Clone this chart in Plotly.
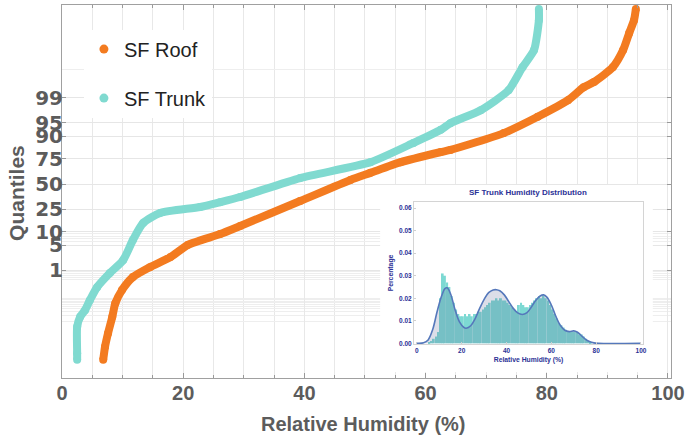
import plotly.graph_objects as go
from statistics import NormalDist

# ---------------- data ----------------
# probability-plot points: cumulative quantile (%) vs relative humidity (%)
trunk_pct = [0.000107, 0.000256, 0.0059, 0.0172, 0.0337, 0.087, 0.272, 0.82,
             2.02, 6.55, 14.7, 21.8, 26.8, 31.2, 36.3, 56.4, 72.2, 86.6,
             92.8, 94.95, 97.67, 99.43, 99.918, 99.9847, 99.9995, 99.99988]
trunk_rh = [2.5, 2.5, 2.5, 3.0, 3.8, 4.6, 5.8, 7.9,
            10.1, 11.7, 13.4, 16.2, 22.8, 26.1, 29.4, 39.3, 50.9, 58.0,
            62.5, 64.1, 69.1, 73.7, 76.0, 77.9, 78.7, 78.7]

roof_pct = [0.000107, 0.00057, 0.0029, 0.0172, 0.066, 0.212, 0.604, 1.25,
            2.44, 5.05, 8.85, 12.9, 32.3, 54.4, 61.8, 72.2, 80.5, 82.1,
            91.5, 96.5, 98.81, 99.547, 99.702, 99.918, 99.9847, 99.99765,
            99.9995, 99.99988]
roof_rh = [6.8, 7.1, 7.6, 8.3, 8.8, 9.9, 11.7, 14.5,
           17.9, 20.8, 26.1, 29.4, 39.3, 47.6, 50.9, 55.9, 62.5, 64.1,
           72.9, 78.5, 83.5, 86.1, 87.8, 90.9, 92.6, 93.6,
           94.4, 94.7]

quantile_ticks = [1, 5, 10, 25, 50, 75, 90, 95, 99]
quantile_minor = [0.01, 0.02, 0.03, 0.04, 0.05, 0.06, 0.07, 0.08, 0.09, 0.1,
                  0.5, 0.6, 0.7, 0.8, 0.9, 6, 7, 8, 9, 99.9]
x_ticks = [0, 20, 40, 60, 80, 100]

# inset: SF Trunk humidity distribution (1 %-wide bins, fraction of samples)
hist_rh = [k + 0.5 for k in range(5, 78)]
hist_frac = [0.0005, 0.001, 0.002, 0.003, 0.005, 0.020, 0.031, 0.030, 0.027, 0.025,
             0.021, 0.018, 0.015, 0.013, 0.012, 0.012, 0.013, 0.012, 0.013, 0.012,
             0.013, 0.013, 0.014, 0.014, 0.015, 0.016, 0.017, 0.018, 0.019, 0.019,
             0.020, 0.019, 0.020, 0.019, 0.019, 0.018, 0.017, 0.016, 0.015, 0.014,
             0.017, 0.018, 0.017, 0.016, 0.016, 0.017, 0.018, 0.019, 0.020, 0.021,
             0.020, 0.021, 0.020, 0.019, 0.017, 0.015, 0.013, 0.011, 0.009, 0.008,
             0.007, 0.006, 0.005, 0.005, 0.005, 0.005, 0.005, 0.004, 0.004, 0.003,
             0.002, 0.001, 0.0005]
kde_rh = [0, 3, 5, 7, 9, 11, 12.5, 13.5, 15, 17, 19, 21, 22, 24, 26, 28, 30, 32,
          34, 35.5, 37, 39, 41, 43, 45, 47, 49, 51, 53, 55, 56.5, 58, 60, 62, 64,
          66, 68, 70, 71.5, 73, 75, 77, 79, 81, 100]
kde_frac = [0, 0.0002, 0.0015, 0.006, 0.014, 0.021, 0.0243, 0.0246, 0.022, 0.015,
            0.0095, 0.007, 0.0067, 0.0078, 0.011, 0.0155, 0.0195, 0.0225, 0.0237,
            0.0238, 0.0233, 0.0215, 0.0185, 0.0155, 0.0135, 0.0128, 0.0135, 0.016,
            0.019, 0.021, 0.0215, 0.0205, 0.017, 0.012, 0.008, 0.0058, 0.0052,
            0.0055, 0.005, 0.0038, 0.002, 0.0008, 0.0002, 0, 0]

# ---------------- helpers ----------------
nd = NormalDist()


def probit(p):
    return nd.inv_cdf(p / 100.0)


ORANGE = "#F37B20"
TEAL = "#80DAD0"
GREY = "#5c5c5c"
NAVY = "#2b3196"
FONT = "Liberation Sans, Arial, sans-serif"
WIDE = "DejaVu Sans, Liberation Sans, sans-serif"

X_MAX = 100.5
Y_MIN, Y_MAX = -5.229, 4.825
# white panel behind the inset (main-axis units)
PANEL_X = [52.5, 97.5]
PANEL_Y = [-5.067, -0.027]

fig = go.Figure()

# white panel that hides the main grid behind the inset
fig.add_trace(go.Scatter(
    x=[PANEL_X[0], PANEL_X[1], PANEL_X[1], PANEL_X[0], PANEL_X[0]],
    y=[PANEL_Y[0], PANEL_Y[0], PANEL_Y[1], PANEL_Y[1], PANEL_Y[0]],
    mode="lines", fill="toself", fillcolor="white", line=dict(width=0),
    showlegend=False, hoverinfo="skip"))

fig.add_trace(go.Scatter(
    x=roof_rh, y=[probit(p) for p in roof_pct], mode="lines+markers",
    line=dict(color=ORANGE, width=8, shape="spline", smoothing=0.6),
    marker=dict(color=ORANGE, size=8, line=dict(width=0)),
    showlegend=False, hoverinfo="skip"))
fig.add_trace(go.Scatter(
    x=trunk_rh, y=[probit(p) for p in trunk_pct], mode="lines+markers",
    line=dict(color=TEAL, width=8, shape="spline", smoothing=0.6),
    marker=dict(color=TEAL, size=8, line=dict(width=0)),
    showlegend=False, hoverinfo="skip"))

# legend entries
fig.add_trace(go.Scatter(x=[None], y=[None], mode="markers", name="SF Roof",
                         marker=dict(color=ORANGE, size=9), legendgroup="roof"))
fig.add_trace(go.Scatter(x=[None], y=[None], mode="markers", name="SF Trunk",
                         marker=dict(color=TEAL, size=9), legendgroup="trunk"))

# inset histogram
fig.add_trace(go.Bar(x=hist_rh, y=hist_frac, width=0.85, xaxis="x2", yaxis="y2",
                     marker=dict(color="#7dd9d3", line=dict(width=0)),
                     showlegend=False, hoverinfo="skip"))
fig.add_trace(go.Scatter(x=kde_rh, y=kde_frac, xaxis="x2", yaxis="y2", mode="lines",
                         line=dict(color="#5578bb", width=1.6, shape="spline"),
                         fill="tozeroy", fillcolor="rgba(95,105,150,0.22)",
                         showlegend=False, hoverinfo="skip"))

fig.update_layout(
    width=689, height=440,
    margin=dict(l=62, r=18, t=5, b=62),
    paper_bgcolor="white", plot_bgcolor="white",
    font=dict(family=FONT),
    legend=dict(x=0.036, y=0.934, xanchor="left", yanchor="top",
                bgcolor="white", borderwidth=0, tracegroupgap=20,
                itemsizing="trace",
                font=dict(family=FONT, size=20, color="#222222")),
    xaxis=dict(range=[0, X_MAX], tickvals=x_ticks, ticks="inside", ticklen=5,
               tickcolor="#999999", showline=True, linecolor="#a0a0a0",
               mirror="ticks", showgrid=True, gridcolor="#e8e8e8", zeroline=False,
               automargin=False, ticklabelstandoff=-3,
               minor=dict(dtick=5, tick0=0, ticks="inside", ticklen=3,
                          tickcolor="#999999", showgrid=True, gridcolor="#e8e8e8"),
               tickfont=dict(family=FONT, size=20, color=GREY, weight="bold")),
    yaxis=dict(range=[Y_MIN, Y_MAX], tickvals=[probit(q) for q in quantile_ticks],
               ticktext=[str(q) for q in quantile_ticks], ticks="inside", ticklen=4,
               tickcolor="#999999", showline=True, linecolor="#a0a0a0",
               mirror="ticks", showgrid=True, gridcolor="#e6e6e6", zeroline=False,
               automargin=False, ticklabelstandoff=-6,
               minor=dict(tickvals=[probit(q) for q in quantile_minor], ticks="",
                          showgrid=True, gridcolor="#eeeeee"),
               tickfont=dict(family=WIDE, size=20, color=GREY, weight="bold")),
    xaxis2=dict(domain=[0.578, 0.954], anchor="y2", range=[-1.3, 100.9],
                tickvals=x_ticks, ticks="inside", ticklen=2, tickcolor="#cfcfcf",
                showline=True, linecolor="#d4d4d4", mirror=True, showgrid=False,
                zeroline=False, automargin=False,
                tickfont=dict(family=FONT, size=6.5, color=NAVY, weight="bold"),
                title=dict(text="Relative Humidity (%)", standoff=4,
                           font=dict(family=FONT, size=6.8, color=NAVY, weight="bold"))),
    yaxis2=dict(domain=[0.0912, 0.4718], anchor="x2", range=[-0.0003, 0.0627],
                tickvals=[0, 0.01, 0.02, 0.03, 0.04, 0.05, 0.06], tickformat=".2f",
                ticks="inside", ticklen=2, tickcolor="#cfcfcf",
                showline=True, linecolor="#d4d4d4", mirror=True, showgrid=False,
                zeroline=False, automargin=False,
                tickfont=dict(family=FONT, size=6.5, color=NAVY, weight="bold"),
                title=dict(text="Percentage", standoff=4,
                           font=dict(family=FONT, size=6.8, color=NAVY, weight="bold"))),
    bargap=0.1,
    annotations=[
        dict(text="SF Trunk Humidity Distribution", xref="paper", yref="paper",
             x=0.765, y=0.497, xanchor="center", yanchor="middle", showarrow=False,
             font=dict(family=FONT, size=8, color=NAVY, weight="bold")),
        dict(text="Relative Humidity (%)", xref="paper", yref="paper",
             x=0.494, y=-0.123, xanchor="center", yanchor="middle", showarrow=False,
             font=dict(family=FONT, size=20, color=GREY, weight="bold")),
        dict(text="Quantiles", xref="paper", yref="paper", textangle=-90,
             x=-0.074, y=0.496, xanchor="center", yanchor="middle", showarrow=False,
             font=dict(family=FONT, size=21, color=GREY, weight="bold")),
    ],
)

fig.write_html("out.html",
               config={"displayModeBar": False},
               post_script="document.body.style.margin='0px';")
